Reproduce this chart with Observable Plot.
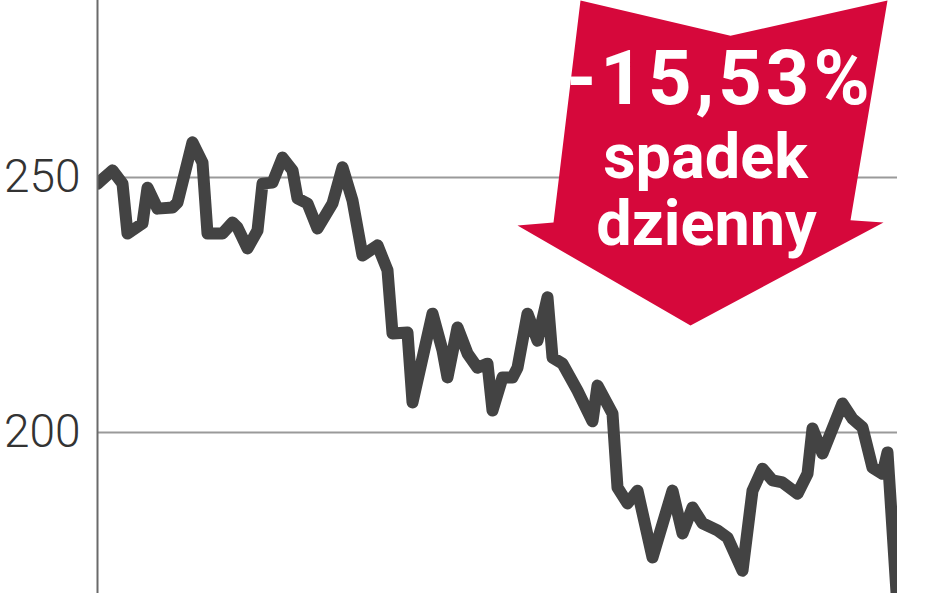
<!DOCTYPE html>
<html>
<head>
<meta charset="utf-8">
<script src="https://cdn.jsdelivr.net/npm/d3@7"></script>
<script src="https://cdn.jsdelivr.net/npm/@observablehq/plot@0.6"></script>
<style>
  html, body { margin: 0; padding: 0; background: #fff; }
  #chart svg { display: block; }
</style>
</head>
<body>
<div id="chart"></div>
<script>
// session index (trading days) and closing price
const sessions = [0,3,5,6,9,10,12,15,16,19,21,22,25,27,28,30,32,33,35,37,39,40,42,44,47,49,51,53,56,58,59,62,63,67,69,70,72,74,76,78,79,81,83,84,86,88,90,91,93,96,99,100,103,104,106,108,111,115,117,119,121,124,126,129,131,133,135,137,140,142,143,145,149,151,153,155,157,158,160];
const prices = [248.8,251.4,248.8,239.0,241.0,248.0,243.9,244.1,245.1,256.9,252.9,239.0,239.0,241.2,240.2,236.1,239.6,248.8,249.0,253.9,251.4,245.9,244.9,240.0,244.9,252.0,245.5,234.7,236.7,231.8,219.4,219.6,205.9,223.3,216.1,210.8,220.6,215.5,212.7,213.5,204.3,210.8,210.8,212.7,223.3,218.0,226.5,214.7,213.5,208.2,202.2,209.2,203.7,189.2,186.1,188.6,175.5,188.6,180.2,185.3,182.2,180.8,179.4,172.9,188.6,192.9,190.6,190.2,188.0,191.9,200.8,195.9,205.7,202.7,201.0,193.1,191.9,196.1,165.6];
const yTicks = [200, 250];
// annotation arrow outline (session, price space)
const arrowX = [96.6,126.6,158,150.6,157.2,118.6,84,91.2];
const arrowY = [284.7,277.8,284.7,241.6,241.2,221.0,240.6,241.2];
const labels = ["-15,53%", "spadek", "dzienny"];
const labelX = [124.5, 121.6, 121.8];
const labelY = [264.5, 250.0, 236.7];
const labelSize = [76, 63, 63];
const labelSpacing = [4, 0, 0];

const series = sessions.map((d, i) => ({d, p: prices[i]}));
const arrow = arrowX.map((x, i) => ({x, y: arrowY[i]}));
const texts = labels.map((t, i) => ({t, x: labelX[i], y: labelY[i], s: labelSize[i], ls: labelSpacing[i]}));

const plot = Plot.plot({
  width: 948,
  height: 593,
  marginLeft: 97,
  marginRight: 51,
  marginTop: 0,
  marginBottom: 0,
  style: {fontFamily: "Roboto, sans-serif", background: "#fff"},
  x: {domain: [0, 160], axis: null},
  y: {domain: [168.43, 284.71], axis: null},
  marks: [
    Plot.ruleY(yTicks, {stroke: "#9a9a9a", strokeWidth: 2}),
    Plot.axisY(yTicks, {tickSize: 0, tickPadding: 17, fontSize: 46, fontWeight: 300, fill: "#333", label: null}),
    Plot.line(series, {x: "d", y: "p", stroke: "#434343", strokeWidth: 12, strokeLinejoin: "round", strokeLinecap: "round", clip: true}),
    Plot.line(arrow, {x: "x", y: "y", fill: "#d6083b", stroke: "none", curve: "linear-closed"}),
    Plot.ruleX([0], {stroke: "#6a6a6a", strokeWidth: 2}),
    ...texts.map(t => Plot.text([t], {x: "x", y: "y", text: "t", fontSize: t.s, fontWeight: 700, fill: "#fff", lineAnchor: "bottom", textAnchor: "middle", className: "lbl-" + t.ls}))
  ]
});
d3.select(plot).selectAll("g.lbl-4 text").style("letter-spacing", "4px");
document.getElementById("chart").appendChild(plot);
</script>
</body>
</html>
